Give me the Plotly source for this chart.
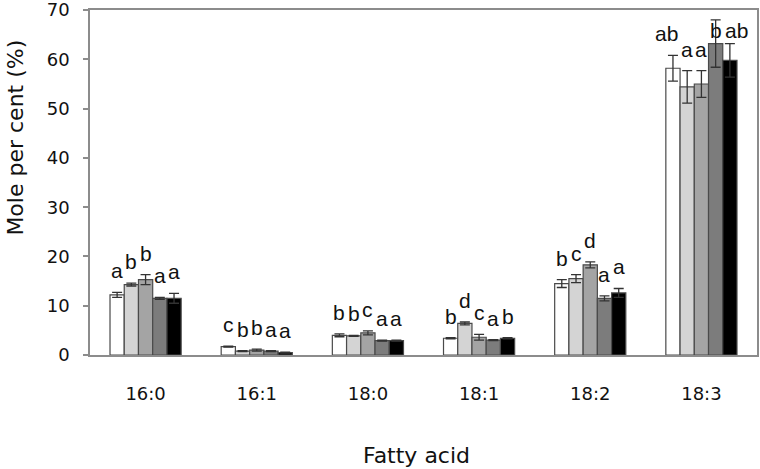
import plotly.graph_objects as go
import numpy as np

fatty_acids = ["16:0", "16:1", "18:0", "18:1", "18:2", "18:3"]

s1 = [12.2, 1.7, 4.0, 3.4, 14.5, 58.2]
s2 = [14.3, 0.8, 3.9, 6.4, 15.5, 54.4]
s3 = [15.3, 1.0, 4.5, 3.6, 18.3, 55.0]
s4 = [11.5, 0.8, 2.9, 3.0, 11.5, 63.2]
s5 = [11.5, 0.5, 2.9, 3.4, 12.6, 59.8]

e1 = [0.5, 0.1, 0.3, 0.1, 0.8, 2.6]
e2 = [0.3, 0.1, 0.1, 0.3, 0.8, 3.3]
e3 = [1.0, 0.2, 0.4, 0.6, 0.6, 2.7]
e4 = [0.2, 0.1, 0.1, 0.1, 0.5, 4.8]
e5 = [1.0, 0.1, 0.1, 0.1, 0.9, 3.4]

l1 = ["a", "c", "b", "b", "b", "ab"]
l2 = ["b", "b", "b", "d", "c", "a"]
l3 = ["b", "b", "c", "c", "d", "a"]
l4 = ["a", "a", "a", "a", "a", "b"]
l5 = ["a", "a", "a", "b", "a", "ab"]

y_ticks = [0, 10, 20, 30, 40, 50, 60, 70]

series = [s1, s2, s3, s4, s5]
errors = [e1, e2, e3, e4, e5]
letters = [l1, l2, l3, l4, l5]
colors = ["#ffffff", "#d4d4d4", "#a4a4a4", "#7c7c7c", "#000000"]

bargap = 0.36
n = len(series)
xidx = np.arange(len(fatty_acids))

fig = go.Figure()
for i in range(n):
    fig.add_trace(go.Bar(
        x=xidx, y=series[i],
        marker=dict(color=colors[i], line=dict(color="#4a4a4a", width=1.2)),
        error_y=dict(type="data", array=errors[i], visible=True,
                     color="#333333", thickness=1.3, width=5),
        showlegend=False,
    ))

annotations = []
bw = (1 - bargap) / n
for i in range(n):
    off = -(1 - bargap) / 2 + (i + 0.5) * bw
    for j in range(len(fatty_acids)):
        top = min(series[i][j] + errors[i][j], 61.5)
        lab = letters[i][j]
        xa, xpos = "center", xidx[j] + off
        if len(lab) > 1:
            if i < n // 2:
                xa, xpos = "right", xidx[j] + off + bw / 2
            else:
                xa, xpos = "left", xidx[j] + off - bw / 2
        annotations.append(dict(
            x=xpos, y=top, xref="x", yref="y", xanchor=xa,
            text=lab, showarrow=False, yanchor="bottom",
            yshift=8, font=dict(family="Liberation Sans", size=21, color="#111111"),
        ))

annotations.append(dict(
    text="Mole per cent (%)", textangle=-90, showarrow=False,
    xref="paper", yref="paper", x=-0.111, y=0.63, xanchor="center", yanchor="middle",
    font=dict(family="DejaVu Sans", size=22, color="#111111"),
))
annotations.append(dict(
    text="Fatty acid", showarrow=False,
    xref="paper", yref="paper", x=0.489, y=-0.29, xanchor="center", yanchor="middle",
    font=dict(family="DejaVu Sans", size=22, color="#111111"),
))

fig.update_layout(
    width=760, height=469,
    margin=dict(l=90, r=3, t=10, b=114, autoexpand=False),
    paper_bgcolor="white", plot_bgcolor="white",
    barmode="group", bargap=bargap, bargroupgap=0,
    annotations=annotations,
    font=dict(family="DejaVu Sans", size=18, color="#111111"),
)
fig.update_xaxes(
    tickvals=list(xidx), ticktext=fatty_acids, range=[-0.5, len(fatty_acids) - 0.5],
    showline=True, linecolor="#8c8c8c", linewidth=1.5, mirror=True,
    ticks="", showgrid=False, zeroline=False, ticklabelstandoff=22,
    automargin=False,
    tickfont=dict(family="DejaVu Sans", size=18, color="#111111"),
)
fig.update_yaxes(
    range=[0, 70.02], tickvals=y_ticks,
    showline=True, linecolor="#8c8c8c", linewidth=1.5, mirror=True,
    ticks="outside", ticklen=5, tickcolor="#8c8c8c", tickwidth=1.5,
    showgrid=False, zeroline=False, ticklabelstandoff=10,
    automargin=False, ticklabeloverflow="allow",
    tickfont=dict(family="DejaVu Sans", size=18, color="#111111"),
)

fig.write_html("out.html", config={"displayModeBar": False},
               post_script="document.body.style.margin='0';")
